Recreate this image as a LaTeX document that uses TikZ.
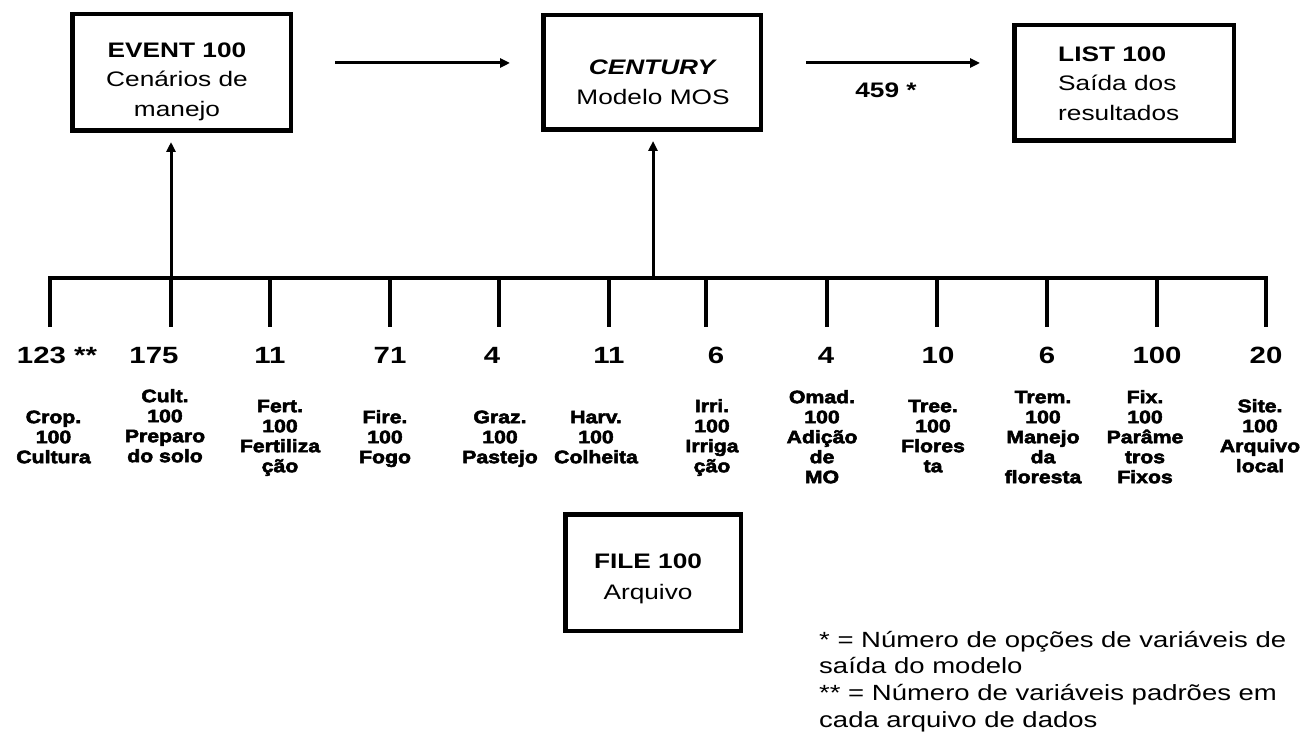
\documentclass[tikz,border=0pt]{standalone}
\usepackage{fontspec}
\setmainfont{Liberation Sans}[FakeStretch=1.25]
\newfontfamily\heavyfont{Liberation Sans}[FakeStretch=1.18, BoldFeatures={FakeBold=3}]
\usetikzlibrary{arrows.meta}
\newcommand{\tp}[1]{\rule{0pt}{#1pt}}
\begin{document}
\begin{tikzpicture}[x=1pt,y=-1pt,
  box/.style={draw, line width=4.5pt, inner sep=0pt},
  boxtext/.style={inner sep=0pt, align=center, font=\fontsize{21}{29.5}\selectfont},
  num/.style={inner sep=0pt, anchor=north, font=\fontsize{23.5}{28}\selectfont\bfseries},
  lab/.style={inner sep=0pt, anchor=north, align=center, font=\heavyfont\fontsize{18}{20}\selectfont\bfseries},
  conn/.style={line width=3.5pt},
  arr/.style={line width=3pt, -{Triangle[length=10pt,width=9pt]}},
]
\useasboundingbox (0,0) rectangle (1303,743);

% boxes
\node[box, minimum width=218.5pt, minimum height=116.5pt] (event) at (181.5,72.5) {};
\node[box, minimum width=217.5pt, minimum height=114.5pt] (century) at (652,72.5) {};
\node[box, minimum width=219.5pt, minimum height=115.5pt] (list) at (1124,83) {};
\node[box, minimum width=175.5pt, minimum height=116.5pt] (file) at (653,572.5) {};

\node[boxtext, anchor=north] (eventtxt) at (177,39) {\tp{18}\textbf{EVENT 100}\\Cenários de\\manejo};
\node[boxtext, anchor=north, font=\fontsize{21}{30}\selectfont] (centurytxt) at (653,56) {\tp{18}\textbf{\textit{CENTURY}}\\Modelo MOS};
\node[boxtext, anchor=north west, align=left] (listtxt) at (1058,43) {\tp{18}\textbf{LIST 100}\\Saída dos\\resultados};
\node[boxtext, anchor=north, font=\fontsize{21}{31}\selectfont] (filetxt) at (648,550) {\tp{18}\textbf{FILE 100}\\Arquivo};

\node[inner sep=0pt, anchor=north, font=\fontsize{21}{25}\selectfont\bfseries] (n459) at (886,79) {\tp{18}459 *};

% top arrows
\draw[arr, shorten <=42pt, shorten >=31pt] ([yshift=9.5pt]event.east) -- ([yshift=9.5pt]century.west);
\draw[arr, shorten <=43pt, shorten >=32pt] ([yshift=9.5pt]century.east) -- ([yshift=9.5pt]century.east -| list.west);

% bus
\foreach \i/\x in {1/50,2/171,3/270,4/390,5/499,6/609,7/706,8/827,9/937,10/1047,11/1157,12/1266}{
  \coordinate (b\i) at (\x,278);
  \coordinate (t\i) at (\x,327);
}
\coordinate (bc) at (653,278);
\draw[conn] (t1) -- (b1) -- (b12) -- (t12);
\foreach \i in {2,...,11}{ \draw[conn] (b\i) -- (t\i); }
\draw[arr, shorten >=9pt] (b2) -- (b2 |- event.south);
\draw[arr, shorten >=9pt] (bc) -- (bc |- century.south);

% numbers
\foreach \i/\x/\t in {1/57/123 **,2/154/175,3/270/11,4/390/71,5/492/4,6/609/11,7/716/6,8/826/4,9/938/10,10/1047/6,11/1157/100,12/1266/20}{
  \node[num] (n\i) at (\x,343) {\tp{20}\t};
}

% labels
\node[lab] (l1) at (53.5,409) {\tp{14}Crop.\\100\\Cultura};
\node[lab] (l2) at (165,388) {\tp{14}Cult.\\100\\Preparo\\do solo};
\node[lab] (l3) at (280,398) {\tp{14}Fert.\\100\\Fertiliza\\ção};
\node[lab] (l4) at (385,409) {\tp{14}Fire.\\100\\Fogo};
\node[lab] (l5) at (500,409) {\tp{14}Graz.\\100\\Pastejo};
\node[lab] (l6) at (596,409) {\tp{14}Harv.\\100\\Colheita};
\node[lab] (l7) at (712,398) {\tp{14}Irri.\\100\\Irriga\\ção};
\node[lab] (l8) at (822,389) {\tp{14}Omad.\\100\\Adição\\de\\MO};
\node[lab] (l9) at (933,398) {\tp{14}Tree.\\100\\Flores\\ta};
\node[lab] (l10) at (1043,389) {\tp{14}Trem.\\100\\Manejo\\da\\floresta};
\node[lab] (l11) at (1145,389) {\tp{14}Fix.\\100\\Parâme\\tros\\Fixos};
\node[lab] (l12) at (1260,398) {\tp{14}Site.\\100\\Arquivo\\local};

% legend
\node[inner sep=0pt, anchor=north west, align=left, font=\fontsize{22}{26.7}\selectfont] (legend) at (819,625) {\tp{22}* = Número de opções de variáveis de\\saída do modelo\\** = Número de variáveis padrões em\\cada arquivo de dados};
\end{tikzpicture}
\end{document}
